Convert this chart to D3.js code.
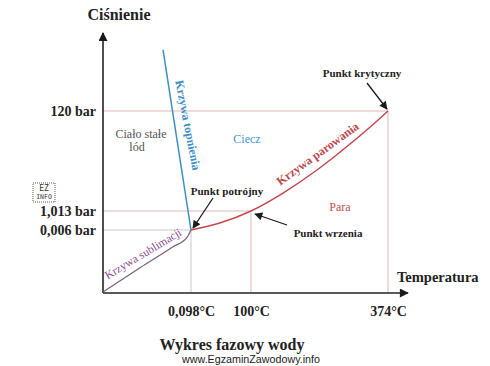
<!DOCTYPE html>
<html><head><meta charset="utf-8">
<script src="https://cdn.jsdelivr.net/npm/d3@7"></script>
<style>body{margin:0;background:#fff} svg{display:block}</style>
</head><body>
<svg id="c" width="490" height="366"></svg>
<script>
// ---- data (schematic phase diagram of water) ----
const tempStops = [-60, 0.098, 100, 374];      // piecewise temperature axis stops (°C)
const presStops = [0, 0.006, 1.013, 120];      // piecewise pressure axis stops (bar)
const xTicks = [0.098, 100, 374];
const xTickLabels = ["0,098°C", "100°C", "374°C"];
const yTicks = [0.006, 1.013, 120];
const yTickLabels = ["0,006 bar", "1,013 bar", "120 bar"];
const sublT = [-60, -34.7, -12.2, -2.6, 0.098];
const sublP = [0.0001, 0.0024, 0.0044, 0.0053, 0.006];
const meltT = [-19, 0.098];
const meltP = [192.6, 0.006];
const vapT = [0.098, 48, 100, 164, 232, 298, 352, 374];
const vapP = [0.006, 0.377, 1.013, 22.4, 49.8, 80.7, 108.1, 120];
const guideT = [0.098, 100, 374];
const guideP = [0.006, 1.013, 120];

const svg = d3.select("#c");
const SERIF = "'Liberation Serif','Times New Roman',serif";
const x = d3.scaleLinear().domain(tempStops).range([103, 191, 251, 388]);
const y = d3.scaleLinear().domain(presStops).range([293, 230, 211, 111]);

const defs = svg.append("defs");
function marker(id, color, w, h) {
  defs.append("marker").attr("id", id).attr("viewBox", "0 0 10 10")
    .attr("refX", 9).attr("refY", 5).attr("markerWidth", w).attr("markerHeight", h)
    .attr("markerUnits", "userSpaceOnUse").attr("orient", "auto")
    .append("path").attr("d", "M0,0 L10,5 L0,10 Z").attr("fill", color);
}
marker("ax", "#1a1a1a", 10, 9);
marker("ar", "#1a1a1a", 9, 8);

// guide lines
const guideCol = ["#c9c9c9", "#e0b7b5", "#e0b7b5"];
guideT.forEach((t, i) => {
  svg.append("line").attr("x1", x(tempStops[0])).attr("x2", x(t))
    .attr("y1", y(guideP[i])).attr("y2", y(guideP[i]))
    .attr("stroke", guideCol[i]).attr("stroke-width", 1);
  svg.append("line").attr("x1", x(t)).attr("x2", x(t))
    .attr("y1", y(guideP[i])).attr("y2", y(0))
    .attr("stroke", guideCol[i]).attr("stroke-width", 1);
});

// axes
const xAxis = d3.axisBottom(x).tickValues(xTicks).tickSize(0).tickPadding(13)
  .tickFormat((d, i) => xTickLabels[i]);
const gx = svg.append("g").attr("transform", `translate(0,${y(0)})`).call(xAxis);
const yAxis = d3.axisLeft(y).tickValues(yTicks).tickSize(0).tickPadding(7)
  .tickFormat((d, i) => yTickLabels[i]);
const gy = svg.append("g").attr("transform", `translate(${x(tempStops[0])},0)`).call(yAxis);
[gx, gy].forEach(g => {
  g.select(".domain").remove();
  g.selectAll("text").attr("font-family", SERIF).attr("font-size", 14)
    .attr("font-weight", "bold").attr("fill", "#222");
});
svg.append("line").attr("x1", x(tempStops[0])).attr("x2", 408)
  .attr("y1", y(0)).attr("y2", y(0)).attr("stroke", "#222").attr("stroke-width", 1.6)
  .attr("marker-end", "url(#ax)");
svg.append("line").attr("x1", x(tempStops[0])).attr("x2", x(tempStops[0]))
  .attr("y1", y(0)).attr("y2", 33).attr("stroke", "#222").attr("stroke-width", 1.6)
  .attr("marker-end", "url(#ax)");

// curves
const line = d3.line().x(d => x(d[0])).y(d => y(d[1])).curve(d3.curveMonotoneX);
const zip = (a, b) => a.map((v, i) => [v, b[i]]);
svg.append("path").attr("d", line(zip(sublT, sublP))).attr("fill", "none")
  .attr("stroke", "#7d6284").attr("stroke-width", 1.3);
svg.append("path").attr("d", d3.line().x(d => x(d[0])).y(d => y(d[1]))(zip(meltT, meltP)))
  .attr("fill", "none").attr("stroke", "#3b8fc4").attr("stroke-width", 1.5);
svg.append("path").attr("d", line(zip(vapT, vapP))).attr("fill", "none")
  .attr("stroke", "#c4474c").attr("stroke-width", 1.5);

// titles
function txt(s, px, py, opt = {}) {
  const t = svg.append("text").attr("x", px).attr("y", py).text(s)
    .attr("font-family", opt.family || SERIF).attr("font-size", opt.size || 12)
    .attr("font-weight", opt.weight || "normal").attr("fill", opt.fill || "#222")
    .attr("text-anchor", opt.anchor || "middle");
  if (opt.rot !== undefined) t.attr("transform", `rotate(${opt.rot},${px},${py})`);
  return t;
}
txt("Ciśnienie", 119, 20, {size: 16, weight: "bold"});
txt("Temperatura", 397, 282, {size: 14.5, weight: "bold", anchor: "start"});
txt("Wykres fazowy wody", 232, 350, {size: 16, weight: "bold"});
txt("www.EgzaminZawodowy.info", 182, 363, {size: 11.5, family: "'Liberation Sans',Arial,sans-serif",
  anchor: "start"}).attr("textLength", 138).attr("lengthAdjust", "spacingAndGlyphs");

// region labels
txt("Ciało stałe", 141, 138, {size: 12, fill: "#555"});
txt("lód", 137, 151, {size: 12, fill: "#555"});
txt("Ciecz", 247, 143, {size: 12, fill: "#3f97cf"});
txt("Para", 340, 211, {size: 12, fill: "#c0504d"});

// curve labels
txt("Krzywa topnienia", 184, 126, {size: 12, fill: "#3f8fc6", rot: 79, weight: "bold"});
txt("Krzywa parowania", 320, 157, {size: 12, fill: "#c0454b", rot: -36, weight: "bold"});
txt("Krzywa sublimacji", 145, 257, {size: 11.5, fill: "#8e4a8c", rot: -31});

// point annotations
txt("Punkt krytyczny", 362, 77, {size: 11, weight: "bold"});
txt("Punkt potrójny", 227, 195, {size: 11, weight: "bold"});
txt("Punkt wrzenia", 328, 237, {size: 11, weight: "bold"});
function arrow(x1, y1, x2, y2) {
  svg.append("line").attr("x1", x1).attr("y1", y1).attr("x2", x2).attr("y2", y2)
    .attr("stroke", "#1a1a1a").attr("stroke-width", 1.3).attr("marker-end", "url(#ar)");
}
arrow(x(374) - 21, y(120) - 28, x(374) - 1, y(120) - 2);
arrow(x(0.098) + 22, y(0.006) - 32, x(0.098) + 2, y(0.006) - 2);
arrow(x(100) + 36, y(1.013) + 14, x(100) + 4, y(1.013) + 3);

// watermark
svg.append("rect").attr("x", 33).attr("y", 183).attr("width", 22).attr("height", 19)
  .attr("fill", "none").attr("stroke", "#333").attr("stroke-width", 0.8)
  .attr("stroke-dasharray", "1,1");
txt("EZ", 44, 191, {size: 8, family: "'DejaVu Sans Mono',monospace", fill: "#333"});
txt("INFO", 44, 199, {size: 6.5, family: "'DejaVu Sans Mono',monospace", fill: "#333"});
</script>
</body></html>
